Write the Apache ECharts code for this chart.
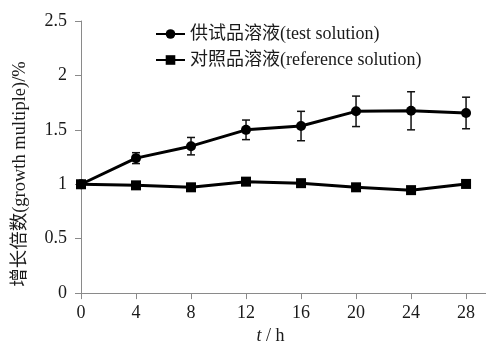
<!DOCTYPE html>
<html>
<head>
<meta charset="utf-8">
<script src="https://cdn.jsdelivr.net/npm/echarts@6/dist/echarts.min.js"></script>
<style>html,body{margin:0;padding:0;background:#fff;}#c{width:486px;height:350px;}</style>
</head>
<body>
<div id="c"></div>
<script>
const hours = [0, 4, 8, 12, 16, 20, 24, 28];
const testValues = [1.0, 1.24, 1.35, 1.50, 1.535, 1.67, 1.675, 1.655];
const testErrors = [0, 0.05, 0.08, 0.09, 0.135, 0.14, 0.175, 0.145];
const refValues = [1.0, 0.99, 0.972, 1.024, 1.01, 0.972, 0.946, 1.003];
const testName = '供试品溶液(test solution)';
const refName = '对照品溶液(reference solution)';
const xTicks = [0, 4, 8, 12, 16, 20, 24, 28];

const FONT = '"Liberation Serif", "Times New Roman", "Noto Sans CJK SC", serif';
const TXT = '#1a1a1a';
const AX = '#8a8a8a';

const errData = hours.map((h, i) => [h, testValues[i] - testErrors[i], testValues[i] + testErrors[i]]).filter((d, i) => testErrors[i] > 0);

const chart = echarts.init(document.getElementById('c'), null, {renderer: 'canvas'});
chart.setOption({
  animation: false,
  backgroundColor: '#fff',
  textStyle: {fontFamily: FONT, color: TXT},
  grid: {left: 81, right: 0, top: 21, bottom: 52.5, containLabel: false},
  legend: {
    orient: 'vertical',
    left: 150,
    top: 20,
    itemWidth: 29,
    itemHeight: 12,
    itemGap: 8,
    textStyle: {fontFamily: FONT, fontSize: 18, color: TXT},
    data: [testName, refName]
  },
  xAxis: {
    type: 'value',
    min: 0,
    max: 29.45,
    interval: 4,
    name: '{i|t} / h',
    nameLocation: 'middle',
    nameGap: 33,
    nameTextStyle: {
      fontFamily: FONT, fontSize: 18, color: TXT, padding: [0, 26, 0, 0],
      rich: {i: {fontFamily: FONT, fontSize: 18, fontStyle: 'italic', color: TXT}}
    },
    axisLine: {lineStyle: {color: AX, width: 1}},
    axisTick: {show: true, length: 6, lineStyle: {color: AX}, customValues: xTicks},
    axisLabel: {fontFamily: FONT, fontSize: 18, color: TXT, margin: 11, customValues: xTicks},
    splitLine: {show: false}
  },
  yAxis: {
    type: 'value',
    min: 0,
    max: 2.5,
    interval: 0.5,
    name: '增长倍数(growth multiple)/%',
    nameLocation: 'middle',
    nameGap: 52,
    nameTextStyle: {fontFamily: FONT, fontSize: 18.5, color: TXT, padding: [0, 34, 0, 0]},
    axisLine: {show: true, lineStyle: {color: AX, width: 1}},
    axisTick: {show: true, length: 6, lineStyle: {color: AX}},
    axisLabel: {fontFamily: FONT, fontSize: 18, color: TXT, margin: 14},
    splitLine: {show: false}
  },
  series: [
    {
      type: 'custom',
      name: 'err',
      z: 1,
      silent: true,
      data: errData,
      encode: {x: 0, y: [1, 2]},
      renderItem: function (params, api) {
        const x = api.value(0);
        const lo = api.coord([x, api.value(1)]);
        const hi = api.coord([x, api.value(2)]);
        const hw = 4;
        const st = {stroke: '#111', lineWidth: 1.5};
        return {
          type: 'group',
          children: [
            {type: 'line', shape: {x1: lo[0], y1: lo[1], x2: hi[0], y2: hi[1]}, style: st},
            {type: 'line', shape: {x1: lo[0] - hw, y1: lo[1], x2: lo[0] + hw, y2: lo[1]}, style: st},
            {type: 'line', shape: {x1: hi[0] - hw, y1: hi[1], x2: hi[0] + hw, y2: hi[1]}, style: st}
          ]
        };
      }
    },
    {
      type: 'line',
      name: testName,
      z: 3,
      data: hours.map((h, i) => [h, testValues[i]]),
      symbol: 'circle',
      symbolSize: 10,
      lineStyle: {color: '#000', width: 3},
      itemStyle: {color: '#000'}
    },
    {
      type: 'line',
      name: refName,
      z: 3,
      data: hours.map((h, i) => [h, refValues[i]]),
      symbol: 'rect',
      symbolSize: 10,
      lineStyle: {color: '#000', width: 3},
      itemStyle: {color: '#000'}
    }
  ]
});
</script>
</body>
</html>
